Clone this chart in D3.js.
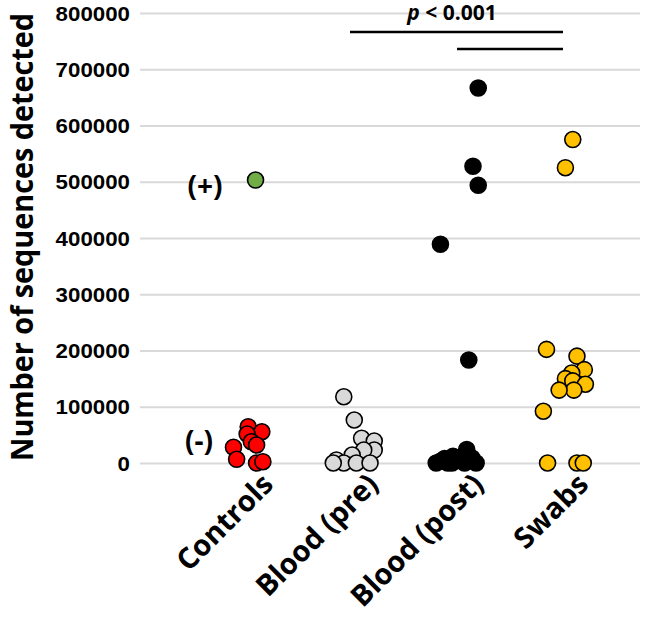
<!DOCTYPE html>
<html><head><meta charset="utf-8">
<script src="https://cdn.jsdelivr.net/npm/d3@7"></script>
<style>body{margin:0;background:#fff;} svg{display:block;font-family:"Open Sans","Liberation Sans",sans-serif;}</style>
</head><body><svg id="c" width="668" height="627"></svg>
<script>
const categories = ["Controls", "Blood (pre)", "Blood (post)", "Swabs"];
const yTicks = [0,100000,200000,300000,400000,500000,600000,700000,800000];
// x = category position (1..4) with jitter as plotted, y = number of sequences
const controlsX = [1.03,1.16,1.02,1.06,1.11,0.89,0.92,1.11,1.17];
const controlsY = [64500,55600,51500,37800,32000,27900,6600,0,2300];
const positiveX = [1.10];
const positiveY = [503000];
const preX = [1.94,2.04,2.11,2.23,2.23,2.13,2.02,1.87,1.94,2.06,2.19,1.84];
const preY = [117800,76400,43900,39000,23000,23000,14200,5300,0,0,0,0];
const postX = [3.22,3.17,3.22,2.86,3.13,3.11,2.98,2.90,2.86,2.93,3.03,3.07,3.14,3.20,2.82,2.97,3.09,3.16];
const postY = [666600,527500,493800,389000,183000,24000,12000,8000,3000,0,5000,10000,4000,0,0,0,0,9000];
const swabX = [4.12,4.05,3.87,4.16,4.23,4.11,4.05,4.12,4.24,4.13,3.99,3.84,3.88,4.16,4.22];
const swabY = [575000,525000,202000,190000,166000,160000,150000,146000,140000,129600,129600,92000,0,0,0];

const svg = d3.select("#c");
const x = d3.scaleLinear().domain([0, 4.76]).range([140, 640]);
const y = d3.scaleLinear().domain([0, 800000]).range([463, 13]);

// gridlines
const yAxis = d3.axisLeft(y).tickValues(yTicks).tickSize(-(640-140)).tickFormat(d3.format("d"));
const ga = svg.append("g").attr("transform","translate(140,0)").call(yAxis);
ga.select(".domain").remove();
ga.selectAll(".tick line").attr("stroke","#d9d9d9").attr("stroke-width",2);
ga.selectAll(".tick text").attr("x",-10).attr("dy","0.36em")
  .attr("font-size",20).attr("font-weight","bold").attr("fill","#000")
  .attr("textLength",d=>String(d).length*12.4).attr("lengthAdjust","spacingAndGlyphs");

// y title
svg.append("text").attr("transform","translate(33,237) rotate(-90)")
  .attr("text-anchor","middle").attr("font-size",30).attr("font-weight","bold")
  .attr("textLength",448).attr("lengthAdjust","spacingAndGlyphs")
  .text("Number of sequences detected");

// category labels
svg.append("g").selectAll("text").data(categories).join("text")
  .attr("transform",(d,i)=>`translate(${x(i+1)+30},${486}) rotate(-45)`)
  .attr("text-anchor","end").attr("font-size",29).attr("font-weight","bold")
  .text(d=>d);

function drawSeries(xs, ys, fill, stroke){
  svg.append("g").selectAll("circle").data(xs.map((v,i)=>[v,ys[i]])).join("circle")
    .attr("cx",d=>x(d[0])).attr("cy",d=>y(d[1])).attr("r",8)
    .attr("fill",fill).attr("stroke",stroke).attr("stroke-width",1.6);
}
drawSeries(controlsX, controlsY, "#ff0000", "#000");
drawSeries(positiveX, positiveY, "#70ad47", "#000");
drawSeries(preX, preY, "#d9d9d9", "#000");
drawSeries(postX, postY, "#000", "#000");
drawSeries(swabX, swabY, "#ffc000", "#000");

// annotations
svg.append("text").attr("x",205).attr("y",196).attr("text-anchor","middle")
  .attr("font-size",28).attr("font-weight","bold").text("(+)");
svg.append("text").attr("x",199).attr("y",451).attr("text-anchor","middle")
  .attr("font-size",28).attr("font-weight","bold").text("(-)");
const pt = svg.append("text").attr("x",452).attr("y",20).attr("text-anchor","middle")
  .attr("font-size",21).attr("font-weight","bold");
pt.append("tspan").attr("font-style","italic").text("p");
pt.append("tspan").text(" < 0.001");
svg.append("line").attr("x1",350).attr("x2",563).attr("y1",32).attr("y2",32).attr("stroke","#000").attr("stroke-width",2.5);
svg.append("line").attr("x1",457).attr("x2",563).attr("y1",49).attr("y2",49).attr("stroke","#000").attr("stroke-width",2.5);
</script></body></html>
